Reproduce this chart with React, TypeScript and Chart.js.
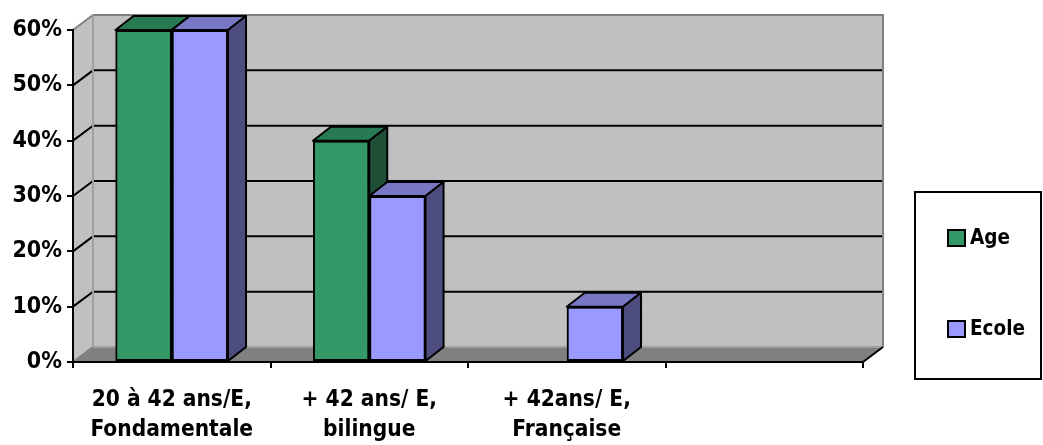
import React, { useEffect, useRef } from "react";
import { Chart, registerables } from "chart.js";

Chart.register(...registerables);

// Categories (last slot is an empty category)
const categories: string[][] = [
  ["20 à 42 ans/E,", "Fondamentale"],
  ["+ 42 ans/ E,", "bilingue"],
  ["+ 42ans/ E,", "Française"],
  [""],
];

// Series values, in percent
const ageValues: (number | null)[] = [60, 40, null, null];
const ecoleValues: (number | null)[] = [60, 30, 10, null];

// Value axis
const yMin = 0;
const yMax = 60;
const yStep = 10;

const seriesNames = ["Age", "Ecole"];
const frontColors = ["#339966", "#9999ff"];
const topColors = ["#277a52", "#7777c4"];
const sideColors = ["#1f4f36", "#4d4d80"];

// Depth of the walls and of the bars
const WALL_DX = 20;
const WALL_DY = -15;
const BAR_DX = 18;
const BAR_DY = -14;

const CONDENSED = "'DejaVu Sans Condensed', 'DejaVu Sans', sans-serif";

function poly(ctx: CanvasRenderingContext2D, pts: number[][]) {
  ctx.beginPath();
  ctx.moveTo(pts[0][0], pts[0][1]);
  for (let i = 1; i < pts.length; i++) ctx.lineTo(pts[i][0], pts[i][1]);
  ctx.closePath();
}

const scenePlugin = {
  id: "scene3d",
  beforeDraw(chart: any) {
    const { ctx, chartArea: a } = chart;
    const y = chart.scales.y;
    const L = a.left, R = a.right, T = a.top, B = a.bottom;
    ctx.save();
    // back wall
    ctx.fillStyle = "#c0c0c0";
    ctx.fillRect(L + WALL_DX, T + WALL_DY, R - L, B - T);
    // side wall
    poly(ctx, [[L, T], [L + WALL_DX, T + WALL_DY], [L + WALL_DX, B + WALL_DY], [L, B]]);
    ctx.fill();
    // floor
    ctx.fillStyle = "#808080";
    poly(ctx, [[L, B], [L + WALL_DX, B + WALL_DY], [R + WALL_DX, B + WALL_DY], [R, B]]);
    ctx.fill();

    // gridlines on the walls
    ctx.strokeStyle = "#000";
    ctx.lineWidth = 2;
    y.ticks.forEach((t: any) => {
      if (t.value <= yMin || t.value >= yMax) return;
      const py = y.getPixelForValue(t.value);
      ctx.beginPath();
      ctx.moveTo(L, py);
      ctx.lineTo(L + WALL_DX, py + WALL_DY);
      ctx.lineTo(R + WALL_DX, py + WALL_DY);
      ctx.stroke();
    });

    // wall outlines
    ctx.strokeStyle = "#808080";
    ctx.beginPath();
    ctx.moveTo(L, T);
    ctx.lineTo(L + WALL_DX, T + WALL_DY);
    ctx.lineTo(R + WALL_DX, T + WALL_DY);
    ctx.lineTo(R + WALL_DX, B + WALL_DY);
    ctx.stroke();
    ctx.strokeStyle = "#a0a0a0";
    ctx.beginPath();
    ctx.moveTo(L + WALL_DX, T + WALL_DY);
    ctx.lineTo(L + WALL_DX, B + WALL_DY);
    ctx.lineTo(R + WALL_DX, B + WALL_DY);
    ctx.stroke();
    ctx.strokeStyle = "#808080";
    ctx.beginPath();
    ctx.moveTo(L, B);
    ctx.lineTo(L + WALL_DX, B + WALL_DY);
    ctx.stroke();
    // floor right edge
    ctx.strokeStyle = "#000";
    ctx.beginPath();
    ctx.moveTo(R, B);
    ctx.lineTo(R + WALL_DX, B + WALL_DY);
    ctx.stroke();
    ctx.restore();
  },
  afterDatasetsDraw(chart: any) {
    const { ctx } = chart;
    // bars are painted series by series, each with its top and side faces,
    // so that later series sit in front of the earlier ones' side faces
    chart.data.datasets.forEach((ds: any, idx: number) => {
      const meta = chart.getDatasetMeta(idx);
      meta.data.forEach((bar: any, i: number) => {
        if (ds.data[i] == null) return;
        bar.draw(ctx);
        const { x, y, base, width } = bar.getProps(["x", "y", "base", "width"], true);
        const x0 = x - width / 2;
        const x1 = x + width / 2;
        ctx.save();
        ctx.strokeStyle = "#000";
        ctx.lineWidth = 2;
        ctx.lineJoin = "round";
        // top face
        ctx.fillStyle = topColors[idx];
        poly(ctx, [[x0, y], [x0 + BAR_DX, y + BAR_DY], [x1 + BAR_DX, y + BAR_DY], [x1, y]]);
        ctx.fill();
        ctx.stroke();
        // side face
        ctx.fillStyle = sideColors[idx];
        poly(ctx, [[x1, y], [x1 + BAR_DX, y + BAR_DY], [x1 + BAR_DX, base + BAR_DY], [x1, base]]);
        ctx.fill();
        ctx.stroke();
        ctx.restore();
      });
    });
  },
  afterDraw(chart: any) {
    const { ctx } = chart;
    ctx.save();
    // legend box
    const bx = 915, by = 192, bw = 126, bh = 187;
    ctx.fillStyle = "#fff";
    ctx.fillRect(bx, by, bw, bh);
    ctx.strokeStyle = "#000";
    ctx.lineWidth = 2;
    ctx.strokeRect(bx, by, bw, bh);
    const rows = [238, 329];
    ctx.font = `bold 20.5px ${CONDENSED}`;
    ctx.textBaseline = "middle";
    ctx.textAlign = "left";
    chart.data.datasets.forEach((ds: any, i: number) => {
      const cy = rows[i];
      ctx.fillStyle = ds.backgroundColor;
      ctx.fillRect(948, cy - 8, 17, 16);
      ctx.strokeRect(948, cy - 8, 17, 16);
      ctx.fillStyle = "#000";
      ctx.fillText(ds.label, 970, cy + 1);
    });
    ctx.restore();
  },
};

export default function App() {
  const canvasRef = useRef<HTMLCanvasElement | null>(null);

  useEffect(() => {
    if (!canvasRef.current) return;
    const chart = new Chart(canvasRef.current, {
      type: "bar",
      data: {
        labels: categories,
        datasets: [
          {
            label: seriesNames[0],
            data: ageValues,
            backgroundColor: frontColors[0],
            borderColor: "#000",
            borderWidth: 2,
            borderSkipped: false,
            clip: false,
          },
          {
            label: seriesNames[1],
            data: ecoleValues,
            backgroundColor: frontColors[1],
            borderColor: "#000",
            borderWidth: 2,
            borderSkipped: false,
            clip: false,
          },
        ] as any,
      },
      options: {
        animation: false,
        responsive: false,
        maintainAspectRatio: false,
        devicePixelRatio: 1,
        layout: { padding: { top: 30, right: 180, left: 0, bottom: 0 } },
        datasets: { bar: { categoryPercentage: 0.57, barPercentage: 1 } },
        plugins: { legend: { display: false }, tooltip: { enabled: false } },
        scales: {
          x: {
            grid: {
              offset: true,
              drawOnChartArea: false,
              drawTicks: true,
              tickLength: 6,
              color: "#000",
              lineWidth: 2,
            },
            border: { display: true, color: "#000", width: 2 },
            ticks: {
              color: "#000",
              padding: 17,
              maxRotation: 0,
              autoSkip: false,
              font: { family: CONDENSED, size: 22.5, weight: "bold", lineHeight: 1.33 },
            },
            afterFit(scale: any) {
              scale.height = 83;
            },
          },
          y: {
            min: yMin,
            max: yMax,
            grid: {
              drawOnChartArea: false,
              drawTicks: true,
              tickLength: 6,
              color: "#000",
              lineWidth: 2,
            },
            border: { display: true, color: "#000", width: 2 },
            ticks: {
              stepSize: yStep,
              color: "#000",
              padding: 5,
              font: { family: CONDENSED, size: 23, weight: "bold" },
              callback: (v: any) => `${v}%`,
            },
            afterFit(scale: any) {
              scale.width = 73;
            },
          },
        },
      } as any,
      plugins: [scenePlugin],
    });
    return () => chart.destroy();
  }, []);

  return (
    <div style={{ position: "absolute", left: 0, top: 0, width: 1043, height: 445, background: "#fff" }}>
      <canvas ref={canvasRef} width={1043} height={445} style={{ display: "block" }} />
    </div>
  );
}
